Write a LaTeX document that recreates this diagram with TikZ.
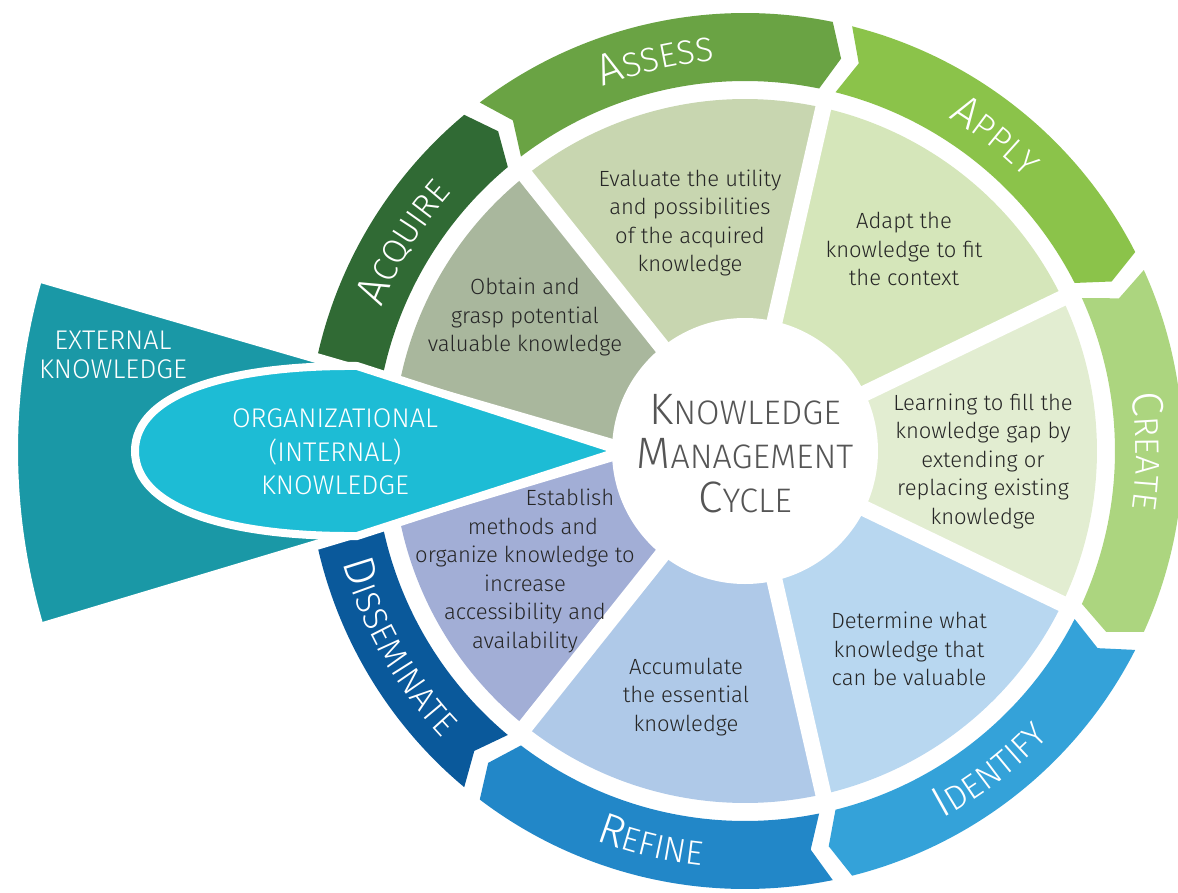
\documentclass[tikz,border=0pt]{standalone}
\usepackage{fontspec}
\IfFontExistsTF{Fira Sans Light}{\setmainfont{Fira Sans Light}}{\setmainfont{Fira Sans}}
\usetikzlibrary{decorations.text}

\definecolor{acqcol}{RGB}{48,106,52}
\definecolor{asscol}{RGB}{106,163,68}
\definecolor{appcol}{RGB}{139,195,74}
\definecolor{crecol}{RGB}{172,213,127}
\definecolor{idecol}{RGB}{52,162,217}
\definecolor{refcol}{RGB}{34,135,200}
\definecolor{discol}{RGB}{10,89,155}
\definecolor{obtcol}{RGB}{169,183,157}
\definecolor{evacol}{RGB}{200,214,176}
\definecolor{adacol}{RGB}{213,230,186}
\definecolor{lrncol}{RGB}{226,237,209}
\definecolor{detcol}{RGB}{184,215,240}
\definecolor{acccol}{RGB}{175,201,232}
\definecolor{estcol}{RGB}{162,174,214}
\definecolor{extcol}{RGB}{26,152,166}
\definecolor{intcol}{RGB}{29,188,213}
\definecolor{midgray}{RGB}{85,85,85}

\newcommand{\rbig}{\fontsize{44}{44}\selectfont}
\newcommand{\rsmall}{\fontsize{34}{34}\selectfont}
\newcommand{\tbig}{\fontsize{44}{44}\selectfont}
\newcommand{\tsmall}{\fontsize{34}{44}\selectfont}

\begin{document}
\begin{tikzpicture}[x=1pt, y=1pt,
	desc/.style={align=center, text=black!85, font=\fontsize{22}{28.5}\selectfont},
	caps/.style={align=center, text=white, font=\fontsize{27}{#1}\selectfont},
	ringtext/.style={decorate, decoration={text along path, text align=center, text color=white, text={#1}}}]
	\useasboundingbox (-745,-441) rectangle (433,451);

	\foreach \hi/\lo/\col in {180/128.57/obtcol, 128.57/77.14/evacol, 77.14/25.71/adacol, 25.71/-25.71/lrncol, -25.71/-77.14/detcol, -77.14/-128.57/acccol, -128.57/-180/estcol}
		\fill[\col] (0,0) -- ({\lo}:352) arc[start angle=\lo, end angle=\hi, radius=352] -- cycle;
	\foreach \a in {25.71, 77.14, 128.57, 180, -25.71, -77.14, -128.57}
		\draw[white, line width=16pt] (0,0) -- ({\a}:362);

	\foreach \hi/\lo/\col in {180/128.57/acqcol, 128.57/77.14/asscol, 77.14/25.71/appcol, 25.71/-25.71/crecol, -25.71/-77.14/idecol, -77.14/-128.57/refcol, -128.57/-180/discol}
		\fill[\col] ({\hi-1.3}:438) arc[start angle=\hi-1.3, end angle=\lo+1.3, radius=438] -- ({\lo-0.9}:404) -- ({\lo+1.3}:370) arc[start angle=\lo+1.3, end angle=\hi-1.3, radius=370] -- ({\hi-3.5}:404) -- cycle;

	\filldraw[fill=extcol, draw=white, line width=10pt, shift={(-112,1)}] (0,0) -- (163.8:620) arc[start angle=163.8, end angle=196.7, radius=620] -- cycle;
	\filldraw[fill=intcol, draw=white, line width=8pt] (-125,0) -- (-388,85) .. controls (-515,86) and (-610,58) .. (-610,0) .. controls (-610,-58) and (-515,-86) .. (-388,-85) -- cycle;
	\fill[white] (0,0) circle[radius=133];

	\path[ringtext={|\rbig|A|\rsmall|CQUIRE}] (183.5:391) arc[start angle=183.5, end angle=113.5, radius=391];
	\path[ringtext={|\rbig|A|\rsmall|SSESS}] (137.86:391) arc[start angle=137.86, end angle=67.86, radius=391];
	\path[ringtext={|\rbig|A|\rsmall|PPLY}] (86.43:391) arc[start angle=86.43, end angle=16.43, radius=391];
	\path[ringtext={|\rbig|C|\rsmall|REATE}] (35:391) arc[start angle=35, end angle=-35, radius=391];
	\path[ringtext={|\rbig|I|\rsmall|DENTIFY}] (-87.5:417) arc[start angle=-87.5, end angle=-17.5, radius=417];
	\path[ringtext={|\rbig|R|\rsmall|EFINE}] (-138.5:417) arc[start angle=-138.5, end angle=-68.5, radius=417];
	\path[ringtext={|\rbig|D|\rsmall|ISSEMINATE}] (-185.5:417) arc[start angle=-185.5, end angle=-115.5, radius=417];

	\node[text=midgray, align=center, font=\tsmall] (title) at (0,-3) {{\tbig K}NOWLEDGE\\{\tbig M}ANAGEMENT\\{\tbig C}YCLE};
	\node[caps=29] (external) at (-632,96) {EXTERNAL\\KNOWLEDGE};
	\node[caps=33.5] (internal) at (-410,-1) {ORGANIZATIONAL\\(INTERNAL)\\KNOWLEDGE};

	\node[desc] (obtain) at (-220,134) {Obtain and\\grasp potential\\valuable knowledge};
	\node[desc] (evaluate) at (-55,228) {Evaluate the utility\\and possibilities\\of the acquired\\knowledge};
	\node[desc] (adapt) at (159,202) {Adapt the\\knowledge to fit\\the context};
	\node[desc] (learning) at (238,-10) {Learning to fill the\\knowledge gap by\\extending or\\replacing existing\\knowledge};
	\node[desc] (determine) at (164,-198) {Determine what\\knowledge that\\can be valuable};
	\node[desc] (accumulate) at (-59,-246) {Accumulate\\the essential\\knowledge};
	\node[desc] (establish) at (-220,-120) {\hspace*{90pt}Establish\\\hspace*{16pt}methods and\\organize knowledge to\\increase\\accessibility and\\availability};
\end{tikzpicture}
\end{document}
